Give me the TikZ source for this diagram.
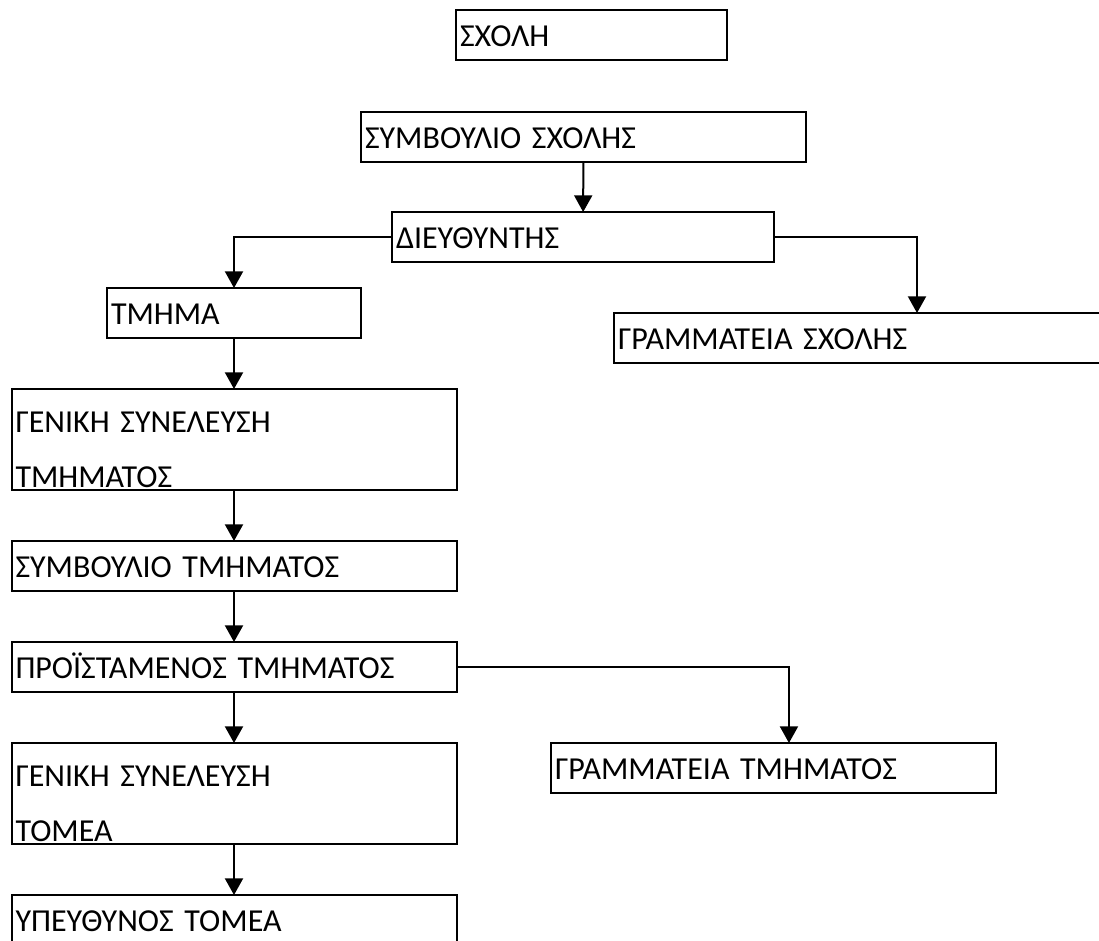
\documentclass[tikz,border=0pt]{standalone}
\usepackage{fontspec}
\setmainfont{Carlito}
\usetikzlibrary{arrows.meta}
\usetikzlibrary{positioning}

\begin{document}
\begin{tikzpicture}[x=0.75pt,y=-0.75pt,>={Triangle[width=13.5pt,length=12.5pt]},node distance=38.25pt,line width=1.5pt]
 \tikzset{
 	box node/.style={rectangle,draw=black,inner xsep=3pt,inner ysep=0pt,outer sep=0pt,align=left,
 	  font=\fontsize{24}{41.25}\selectfont,minimum height=37.5pt,text height=16.5pt,text depth=0pt},
 	tall node/.style={box node,minimum height=75.75pt,text depth=27.75pt},
 	wide node/.style={text width=327.75pt}
 }
 \clip (0,0) rectangle (1099,940);

       \node[box node,text width=197.25pt,anchor=north west] (school) at (456,10) {ΣΧΟΛΗ};
       \node[box node,wide node,anchor=north west] (symvSch) at (361,112) {ΣΥΜΒΟΥΛΙΟ ΣΧΟΛΗΣ};
       \node[box node,text width=280.5pt,anchor=north west] (dieyth) at (392,212) {ΔΙΕΥΘΥΝΤΗΣ};
       \node[box node,text width=184.5pt,anchor=north west] (tmima) at (107,288) {ΤΜΗΜΑ};
       \node[box node,text width=448.5pt,anchor=north west] (gramSch) at (614,313) {ΓΡΑΜΜΑΤΕΙΑ ΣΧΟΛΗΣ};

       \node[tall node,wide node] (genTm) [below=of tmima] {ΓΕΝΙΚΗ ΣΥΝΕΛΕΥΣΗ\\ΤΜΗΜΑΤΟΣ};
       \node[box node,wide node] (symvTm) [below=of genTm] {ΣΥΜΒΟΥΛΙΟ ΤΜΗΜΑΤΟΣ};
       \node[box node,wide node] (proist) [below=of symvTm] {ΠΡΟΪΣΤΑΜΕΝΟΣ ΤΜΗΜΑΤΟΣ};
       \node[tall node,wide node] (genTom) [below=of proist] {ΓΕΝΙΚΗ ΣΥΝΕΛΕΥΣΗ\\ΤΟΜΕΑ};
       \node[box node,wide node] (ypeyth) [below=of genTom] {ΥΠΕΥΘΥΝΟΣ ΤΟΜΕΑ};
       \node[box node,wide node,anchor=north west] (gramTm) at (551,743) {ΓΡΑΜΜΑΤΕΙΑ ΤΜΗΜΑΤΟΣ};

     \path[->]  (symvSch) edge (dieyth);
     \draw[->]  (dieyth.west) -| (tmima.north);
     \draw[->]  (dieyth.east) -| (gramSch.north);
     \path[->]  (tmima) edge (genTm);
     \path[->]  (genTm) edge (symvTm);
     \path[->]  (symvTm) edge (proist);
     \path[->]  (proist) edge (genTom);
     \path[->]  (genTom) edge (ypeyth);
     \draw[->]  (proist.east) -| ([xshift=11.6pt]gramTm.north);
 \end{tikzpicture}
\end{document}
